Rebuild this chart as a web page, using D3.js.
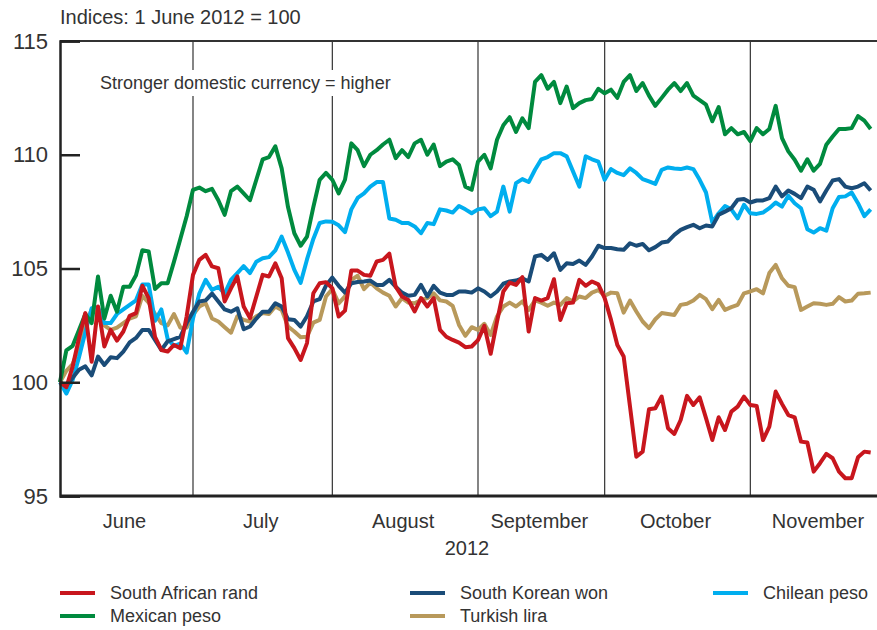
<!DOCTYPE html>
<html>
<head>
<meta charset="utf-8">
<script src="https://cdn.jsdelivr.net/npm/d3@7/dist/d3.min.js"></script>
<style>
body { margin: 0; background: #fff; }
svg text { font-family: "Liberation Sans", Arial, sans-serif; fill: #333; }
</style>
</head>
<body>
<svg id="chart" width="877" height="630"></svg>
<script>
// Indices: 1 June 2012 = 100, one value per business day, 1 June - 28 Nov 2012
var rand = [100, 99.78, 100.69, 101.94, 103.04, 100.9, 103.33, 101.57, 102.3, 101.83, 102.23, 102.92, 103.04, 104.24, 103.7, 102.0, 101.42, 101.35, 101.64, 101.5, 102.9, 104.72,
  105.38, 105.6, 105.09, 105.01, 103.55, 104.13, 104.65, 103.33, 102.82, 103.77, 104.72, 104.65, 105.23, 104.57, 101.94, 101.5, 100.98, 101.72, 103.91, 104.35, 104.4, 104.13,
  102.89, 103.15, 104.91, 104.91, 104.72, 104.68, 105.31, 105.38, 105.65, 104.2, 103.77, 103.62, 103.11, 103.7, 103.33, 103.7, 102.3, 102.0, 101.86, 101.74, 101.54, 101.57, 101.85,
  102.48, 101.25, 102.67, 103.99, 104.38, 104.28, 104.62, 102.23, 103.7, 103.59, 103.7, 104.53, 102.74, 103.47, 103.5, 104.5, 104.24, 104.43, 104.3, 103.7,
  102.74, 101.64, 101.13, 98.93, 96.73, 96.95, 98.81, 98.86, 99.37, 97.98, 97.73, 98.34, 99.4, 99.0, 99.34, 98.42, 97.46, 98.46, 97.9, 98.71, 98.93, 99.37, 99.0,
  98.96, 97.46, 98.05, 99.59, 99.05, 98.56, 98.46, 97.39, 97.35, 96.07, 96.44, 96.85, 96.66, 96.07, 95.78, 95.78, 96.7, 96.95, 96.91];

var peso_mx = [100, 101.4, 101.6, 102.3, 103.0, 102.6, 104.65, 102.8, 103.8, 103.1, 104.2, 104.2, 104.7, 105.8, 105.75, 104.1, 104.35, 104.35, 105.3, 106.3, 107.3, 108.46,
  108.56, 108.4, 108.5, 108.0, 107.36, 108.4, 108.6, 108.3, 108.0, 108.9, 109.8, 109.9, 110.37, 109.4, 107.7, 106.55, 106.0, 106.4, 107.7, 108.9, 109.2, 108.9,
  108.3, 108.9, 110.5, 110.2, 109.5, 110.0, 110.2, 110.45, 110.66, 109.85, 110.2, 109.9, 110.5, 110.66, 110.0, 110.45, 109.5, 109.7, 109.8, 109.55, 108.6, 108.46, 109.7,
  110.0, 109.4, 110.66, 111.3, 111.65, 111.0, 111.6, 111.17, 113.2, 113.5, 112.9, 113.2, 112.27, 113.0, 112.05, 112.27, 112.4, 112.45, 112.9, 112.7,
  112.86, 112.5, 113.2, 113.5, 112.8, 113.15, 112.6, 112.15, 112.5, 112.86, 113.15, 112.8, 113.15, 112.6, 112.4, 112.2, 111.47, 112.1, 110.9, 111.17, 110.9, 111.0, 110.6,
  111.17, 110.9, 111.13, 112.15, 110.73, 110.15, 109.78, 109.3, 109.8, 109.3, 109.6, 110.44, 110.8, 111.13, 111.13, 111.17, 111.7, 111.5, 111.13];

var won = [100, 99.85, 100.2, 100.55, 100.7, 100.3, 101.13, 100.76, 101.1, 101.06, 101.35, 101.75, 101.95, 102.3, 102.3, 101.86, 101.42, 101.8, 101.9, 102.0, 102.6, 103.1,
  103.55, 103.6, 103.9, 103.55, 103.2, 103.1, 103.25, 102.33, 102.45, 102.8, 103.1, 103.1, 103.47, 103.33, 102.77, 102.74, 102.45, 102.9, 103.55, 103.65, 104.25, 104.6,
  104.24, 103.94, 104.35, 104.41, 104.43, 104.47, 104.28, 104.28, 104.5, 104.2, 103.94, 103.8, 103.84, 104.28, 103.77, 104.24, 103.94, 103.84, 103.84, 103.99, 103.99, 103.94, 104.13,
  103.99, 103.77, 103.99, 104.33, 104.43, 104.47, 104.57, 104.43, 105.53, 105.6, 105.38, 105.67, 104.94, 105.23, 105.2, 105.35, 105.16, 105.53, 106.0, 105.9,
  105.9, 105.85, 105.82, 106.11, 106.0, 106.08, 105.8, 105.94, 106.14, 106.19, 106.48, 106.7, 106.82, 106.92, 106.77, 106.89, 106.85, 107.36, 107.5, 107.65, 108.02, 108.05, 107.9,
  107.99, 107.99, 108.09, 108.6, 108.17, 108.43, 108.28, 108.09, 108.6, 108.46, 107.95, 108.43, 108.87, 108.93, 108.6, 108.53, 108.6, 108.75, 108.43];

var lira = [100, 100.5, 100.8, 101.5, 102.5, 103.2, 103.0, 102.5, 102.3, 102.4, 102.6, 102.8, 102.9, 103.8, 103.5, 103.0, 102.6, 102.5, 103.0, 102.4, 102.4, 102.96,
  103.33, 103.47, 102.8, 102.67, 102.42, 102.18, 102.9, 102.74, 102.67, 102.9, 103.04, 103.0, 103.33, 103.18, 102.45, 102.23, 101.98, 102.0, 102.62, 102.74, 103.77, 104.1,
  103.47, 103.77, 104.5, 104.68, 104.09, 104.38, 104.13, 103.94, 103.8, 103.33, 103.7, 103.5, 103.47, 103.62, 103.7, 103.91, 103.6, 103.55, 103.36, 102.52, 102.04, 102.42, 102.3,
  102.57, 102.08, 102.89, 103.33, 103.5, 103.33, 103.55, 103.18, 103.6, 103.5, 103.36, 103.5, 103.4, 103.7, 103.55, 103.77, 103.7, 103.94, 104.05, 103.8,
  103.94, 103.91, 103.06, 103.59, 103.11, 102.67, 102.38, 102.77, 103.04, 103.0, 102.96, 103.4, 103.45, 103.59, 103.84, 103.65, 103.21, 103.62, 103.18, 103.3, 103.4, 103.91, 103.99,
  104.09, 103.91, 104.8, 105.16, 104.57, 104.24, 104.18, 103.18, 103.33, 103.47, 103.45, 103.4, 103.45, 103.74, 103.55, 103.59, 103.89, 103.91, 103.94];

var peso_cl = [100, 99.5, 100.1, 101.1, 102.2, 103.25, 103.3, 102.6, 102.6, 103.0, 103.2, 103.4, 103.6, 104.3, 104.3, 102.7, 103.2, 101.9, 101.6, 101.7, 101.3, 102.8,
  103.9, 104.5, 104.06, 104.2, 103.9, 104.5, 104.8, 105.1, 104.8, 105.3, 105.45, 105.5, 105.8, 106.4, 105.7, 104.94, 104.37, 105.4, 106.3, 107.0, 107.07, 107.05,
  106.9, 106.6, 107.6, 108.1, 108.3, 108.6, 108.8, 108.8, 107.2, 107.14, 107.0, 107.0, 106.85, 106.55, 107.0, 106.95, 107.6, 107.55, 107.46, 107.75, 107.6, 107.43, 107.6,
  107.65, 107.3, 107.5, 108.6, 107.5, 108.75, 108.93, 108.8, 109.34, 109.8, 109.9, 110.07, 110.07, 109.93, 109.27, 108.6, 109.93, 109.8, 109.7, 108.9,
  109.37, 109.2, 109.1, 109.4, 109.2, 108.93, 108.83, 108.72, 109.34, 109.44, 109.4, 109.37, 109.44, 109.37, 108.9, 108.34, 107.02, 107.43, 107.75, 107.6, 107.2, 107.8, 107.43,
  107.4, 107.46, 107.65, 107.9, 107.72, 108.2, 107.87, 107.65, 106.73, 106.58, 106.77, 106.66, 107.65, 108.14, 108.17, 108.34, 107.87, 107.3, 107.6];

var seriesNames = ["South African rand", "Mexican peso", "South Korean won", "Turkish lira", "Chilean peso"];
var seriesColors = ["#c8161d", "#008a3e", "#1a4c78", "#b8995b", "#00aeef"];
var monthNames = ["June", "July", "August", "September", "October", "November"];
var yTicks = [95, 100, 105, 110, 115];

var series = [
  {name: seriesNames[3], color: seriesColors[3], values: lira},
  {name: seriesNames[4], color: seriesColors[4], values: peso_cl},
  {name: seriesNames[2], color: seriesColors[2], values: won},
  {name: seriesNames[1], color: seriesColors[1], values: peso_mx},
  {name: seriesNames[0], color: seriesColors[0], values: rand}
];

// business days from 1 June 2012 (for month boundaries)
var days = [];
var d = new Date(2012, 5, 1);
while (days.length < 140) {
  if (d.getDay() != 0 && d.getDay() != 6) days.push(new Date(d));
  d.setDate(d.getDate() + 1);
}
var monthStart = [];
days.forEach(function(day, i) {
  if (i == 0 || day.getMonth() != days[i - 1].getMonth()) monthStart.push(i);
});

var svg = d3.select("#chart"),
    margin = {top: 41, right: 0, bottom: 134, left: 60},
    width = +svg.attr("width") - margin.left - margin.right,
    height = +svg.attr("height") - margin.top - margin.bottom,
    g = svg.append("g").attr("transform", "translate(" + margin.left + "," + margin.top + ")");

var x = d3.scaleLinear().domain([0, 129]).range([0, width]);
var y = d3.scaleLinear().domain([95, 115]).range([height, 0]);

// month dividers
g.selectAll(".divider")
  .data(monthStart.slice(1, 6))
  .enter().append("line")
    .attr("class", "divider")
    .attr("x1", function(d) { return x(d); })
    .attr("x2", function(d) { return x(d); })
    .attr("y1", 0)
    .attr("y2", height)
    .attr("stroke", "#333")
    .attr("stroke-width", 1.2);

// annotation with white box behind
var note = g.append("text")
  .attr("x", 40)
  .attr("y", 48)
  .style("font-size", "18px")
  .text("Stronger domestic currency = higher");
var bb = note.node().getBBox();
g.insert("rect", "text")
  .attr("x", bb.x - 4).attr("y", bb.y - 3)
  .attr("width", bb.width + 8).attr("height", bb.height + 6)
  .attr("fill", "#fff");

var line = d3.line()
  .x(function(d, i) { return x(i); })
  .y(function(d) { return y(d); });

g.selectAll(".series")
  .data(series)
  .enter().append("path")
    .attr("class", "series")
    .attr("fill", "none")
    .attr("stroke", function(d) { return d.color; })
    .attr("stroke-width", 4)
    .attr("stroke-linejoin", "round")
    .attr("d", function(d) { return line(d.values); });

// frame
g.append("line").attr("x1", 0).attr("x2", width).attr("y1", 0).attr("y2", 0)
  .attr("stroke", "#333").attr("stroke-width", 2);
g.append("line").attr("x1", 0).attr("x2", width).attr("y1", height).attr("y2", height)
  .attr("stroke", "#222").attr("stroke-width", 3);

var yAxis = g.append("g")
  .attr("class", "axis axis--y")
  .call(d3.axisLeft(y).tickValues(yTicks).tickSize(-20).tickPadding(12));
yAxis.select(".domain").attr("stroke", "#222").attr("stroke-width", 2.5);
yAxis.selectAll(".tick line").attr("stroke", "#222").attr("stroke-width", 2.5);
yAxis.selectAll(".tick text").style("font-size", "22px").attr("fill", "#333");

// month labels
g.selectAll(".month")
  .data(monthNames)
  .enter().append("text")
    .attr("class", "month")
    .attr("x", function(d, i) { return x((monthStart[i] + monthStart[i + 1]) / 2) - 2; })
    .attr("y", height + 32)
    .attr("text-anchor", "middle")
    .style("font-size", "20px")
    .text(function(d) { return d; });

g.append("text")
  .attr("x", x(monthStart[3]) - 11)
  .attr("y", height + 59)
  .attr("text-anchor", "middle")
  .style("font-size", "20px")
  .text("2012");

svg.append("text")
  .attr("x", 60)
  .attr("y", 24)
  .style("font-size", "20px")
  .text("Indices: 1 June 2012 = 100");

// legend
var legendOrder = [0, 1, 2, 3, 4];
var legendX = [60, 410, 713];
var legendPos = [[0, 0], [0, 1], [1, 0], [1, 1], [2, 0]];
var legend = svg.selectAll(".legend")
  .data(legendOrder)
  .enter().append("g")
    .attr("class", "legend")
    .attr("transform", function(d) {
      return "translate(" + legendX[legendPos[d][0]] + "," + (593 + 23 * legendPos[d][1]) + ")";
    });
legend.append("line")
  .attr("x1", 0).attr("x2", 35)
  .attr("stroke", function(d) { return seriesColors[d]; })
  .attr("stroke-width", 4);
legend.append("text")
  .attr("x", 50)
  .attr("dy", "0.35em")
  .style("font-size", "18px")
  .text(function(d) { return seriesNames[d]; });
</script>
</body>
</html>
